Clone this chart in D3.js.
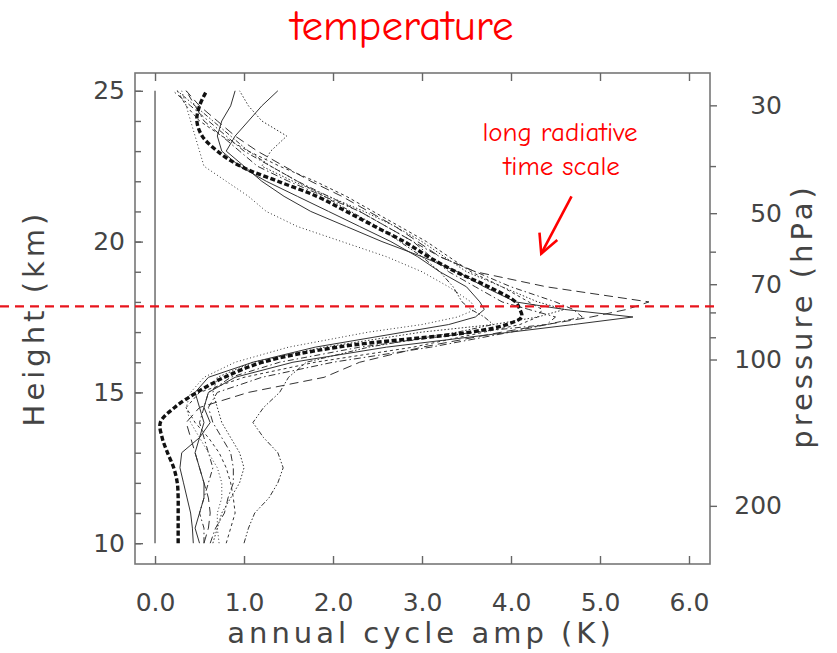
<!DOCTYPE html>
<html>
<head>
<meta charset="utf-8">
<script src="https://cdn.jsdelivr.net/npm/d3@7/dist/d3.min.js"></script>
<style>
  body { margin: 0; background: #fff; }
  svg text { font-family: "DejaVu Sans", sans-serif; }
</style>
</head>
<body>
<div id="chart"></div>
<script>
// heights (km) shared by every profile
var heights = [10, 10.5, 11, 11.5, 12, 12.5, 13, 13.5, 14, 14.5, 15, 15.5, 16, 16.5,
  17, 17.25, 17.5, 17.75, 18, 18.5, 19, 19.5, 20, 20.5, 21, 21.5, 22, 22.5, 23, 23.5, 24, 24.5, 25];

// annual cycle amplitude (K) of the single profiles
var ampSolidA = [0.43, 0.42, 0.40, 0.36, 0.32, 0.28, 0.30, 0.50, 0.62, 0.55, 0.60, 0.90, 1.55, 2.60,
  4.00, 4.70, 5.37, 4.60, 4.05, 3.70, 3.40, 3.00, 2.55, 2.15, 1.75, 1.45, 1.20, 1.00, 0.80, 0.90, 1.05, 1.20, 1.38];
var ampLongDash = [0.55, 0.60, 0.62, 0.60, 0.55, 0.50, 0.45, 0.40, 0.35, 0.50, 1.05, 1.90, 2.30, 3.00,
  3.90, 4.40, 4.90, 5.30, 5.55, 4.40, 3.60, 3.20, 2.95, 2.70, 2.40, 2.10, 1.75, 1.45, 1.15, 0.90, 0.70, 0.50, 0.35];
var ampDashDotA = [0.55, 0.55, 0.50, 0.55, 0.60, 0.65, 0.60, 0.55, 0.50, 0.55, 0.60, 0.85, 1.40, 2.30,
  3.60, 4.40, 4.80, 4.70, 4.50, 4.00, 3.60, 3.20, 2.90, 2.60, 2.30, 1.95, 1.60, 1.30, 1.00, 0.80, 0.60, 0.40, 0.20];
var ampDottedA = [0.65, 0.70, 0.75, 0.85, 0.95, 1.00, 0.95, 0.85, 0.75, 0.70, 0.65, 0.70, 1.10, 1.90,
  3.00, 3.80, 4.30, 4.60, 4.30, 3.90, 3.50, 3.25, 3.00, 2.70, 2.35, 1.95, 1.55, 1.20, 1.30, 1.48, 1.20, 1.05, 0.95];
var ampDashDotDot = [1.00, 1.05, 1.12, 1.28, 1.38, 1.44, 1.38, 1.22, 1.10, 1.22, 1.40, 1.50, 1.70, 2.40,
  3.40, 3.80, 3.70, 3.55, 3.45, 3.35, 3.20, 3.00, 2.75, 2.50, 2.20, 1.90, 1.60, 1.30, 1.05, 0.85, 0.65, 0.45, 0.25];
var ampShortDash = [0.80, 0.85, 0.90, 0.88, 0.85, 0.80, 0.72, 0.60, 0.45, 0.35, 0.50, 1.00, 1.80, 2.90,
  3.70, 4.10, 4.30, 4.35, 4.20, 3.90, 3.55, 3.30, 3.05, 2.75, 2.45, 2.15, 1.80, 1.40, 1.05, 0.75, 0.50, 0.35, 0.25];
var ampSolidB = [0.50, 0.45, 0.50, 0.55, 0.55, 0.50, 0.45, 0.50, 0.55, 0.50, 0.45, 0.60, 1.10, 1.80,
  2.80, 3.30, 3.60, 3.70, 3.65, 3.50, 3.20, 2.95, 2.65, 2.30, 1.95, 1.60, 1.25, 0.95, 0.75, 0.70, 0.75, 0.85, 0.90];
var ampDashDotB = [0.62, 0.68, 0.78, 0.82, 0.88, 0.88, 0.85, 0.75, 0.65, 0.60, 0.70, 1.20, 2.00, 3.10,
  4.00, 4.40, 4.50, 4.20, 3.90, 3.60, 3.30, 3.10, 2.90, 2.60, 2.30, 1.90, 1.50, 1.15, 0.95, 0.75, 0.55, 0.45, 0.35];
var ampDottedB = [0.72, 0.70, 0.70, 0.75, 0.75, 0.70, 0.60, 0.50, 0.40, 0.35, 0.40, 0.55, 0.90, 1.50,
  2.40, 3.00, 3.40, 3.60, 3.55, 3.30, 3.00, 2.60, 2.10, 1.60, 1.25, 1.05, 0.80, 0.55, 0.50, 0.45, 0.40, 0.35, 0.30];
// mean profile (thick dashed)
var ampMean = [0.26, 0.26, 0.26, 0.26, 0.25, 0.21, 0.14, 0.08, 0.06, 0.22, 0.47, 0.78, 1.21, 2.05,
  3.55, 3.95, 4.12, 4.10, 4.05, 3.75, 3.38, 3.07, 2.80, 2.47, 2.15, 1.82, 1.38, 0.96, 0.70, 0.53, 0.47, 0.50, 0.58];

var xTicks = [0, 1, 2, 3, 4, 5, 6];
var hMajor = [10, 15, 20, 25];
var hMinor = d3.range(10, 26, 1);
var pMajor = [30, 50, 70, 100, 200];
var pMinor = [40, 60, 80, 90];
var tropopause = 17.85;

var svgWidth = 837, svgHeight = 653;
var box = { left: 135, right: 710, top: 73, bottom: 564 };

var svg = d3.select("#chart").append("svg")
  .attr("width", svgWidth)
  .attr("height", svgHeight);

var x = d3.scaleLinear().domain([-0.225, 6.236]).range([box.left, box.right]);
var y = d3.scaleLinear().domain([9.31, 25.59]).range([box.bottom, box.top]);

// log-pressure height: 100 hPa at 16.09 km, scale height 7 km
function pAt(z) { return 100 * Math.exp(-(z - 16.09) / 7.0); }
var yP = d3.scaleLog().domain([pAt(y.domain()[0]), pAt(y.domain()[1])]).range([box.bottom, box.top]);

var series = [
  { amp: ampSolidA, dash: null },
  { amp: ampLongDash, dash: "9,5" },
  { amp: ampDashDotA, dash: "6,3,1.5,3" },
  { amp: ampDottedA, dash: "1.5,2" },
  { amp: ampDashDotDot, dash: "5,2,1.5,2,1.5,2" },
  { amp: ampShortDash, dash: "3,3" },
  { amp: ampSolidB, dash: null },
  { amp: ampDashDotB, dash: "7,3,1.5,3" },
  { amp: ampDottedB, dash: "1,2.5" }
];

var line = d3.line()
  .x(d => x(d[0]))
  .y(d => y(d[1]));

var plot = svg.append("g");

// zero line
plot.append("path")
  .attr("d", line([[0, 10], [0, 25]]))
  .attr("stroke", "#555")
  .attr("stroke-width", 1.3)
  .attr("fill", "none");

plot.selectAll(".prof")
  .data(series)
  .enter()
  .append("path")
  .attr("class", "prof")
  .attr("d", s => line(s.amp.map((a, i) => [a, heights[i]])))
  .attr("fill", "none")
  .attr("stroke", "#333")
  .attr("stroke-width", 1)
  .attr("stroke-dasharray", s => s.dash);

plot.append("path")
  .attr("d", line.curve(d3.curveCatmullRom)(ampMean.map((a, i) => [a, heights[i]])))
  .attr("fill", "none")
  .attr("stroke", "#111")
  .attr("stroke-width", 3.4)
  .attr("stroke-dasharray", "5,2.5");

// frame
svg.append("rect")
  .attr("x", box.left).attr("y", box.top)
  .attr("width", box.right - box.left).attr("height", box.bottom - box.top)
  .attr("fill", "none").attr("stroke", "#777").attr("stroke-width", 1.6);

function style(g) {
  g.select(".domain").remove();
  g.selectAll(".tick line").attr("stroke", "#666").attr("stroke-width", 1.4);
  g.selectAll(".tick text").attr("fill", "#444").style("font-size", "25px");
}

svg.append("g")
  .attr("transform", `translate(0,${box.bottom})`)
  .call(d3.axisBottom(x).tickValues(xTicks).tickSize(-8).tickPadding(29).tickFormat(d3.format(".1f")))
  .call(style);
svg.append("g")
  .attr("transform", `translate(0,${box.top})`)
  .call(d3.axisTop(x).tickValues(xTicks).tickSize(-8).tickFormat(""))
  .call(style);
svg.append("g")
  .attr("transform", `translate(${box.left},0)`)
  .call(d3.axisLeft(y).tickValues(hMinor).tickSize(-6).tickFormat(""))
  .call(style);
svg.append("g")
  .attr("transform", `translate(${box.left},0)`)
  .call(d3.axisLeft(y).tickValues(hMajor).tickSizeInner(-8).tickSizeOuter(0).tickPadding(10))
  .call(style);
svg.append("g")
  .attr("transform", `translate(${box.right},0)`)
  .call(d3.axisRight(yP).tickValues(pMinor).tickSize(6).tickFormat(""))
  .call(style);
svg.append("g")
  .attr("transform", `translate(${box.right},0)`)
  .call(d3.axisRight(yP).tickValues(pMajor).tickSize(7).tickFormat(d3.format("d")))
  .call(style)
  .selectAll(".tick text").attr("text-anchor", "end").attr("x", 72);

// axis titles
svg.append("text")
  .attr("x", 421).attr("y", 643)
  .attr("text-anchor", "middle")
  .attr("fill", "#444")
  .style("font-size", "29px").style("letter-spacing", "4px")
  .text("annual cycle amp (K)");
svg.append("text")
  .attr("transform", "translate(44,318) rotate(-90)")
  .attr("text-anchor", "middle")
  .attr("fill", "#444")
  .style("font-size", "29px").style("letter-spacing", "4px")
  .text("Height (km)");
svg.append("text")
  .attr("transform", "translate(812,316) rotate(-90)")
  .attr("text-anchor", "middle")
  .attr("fill", "#444")
  .style("font-size", "29px").style("letter-spacing", "4px")
  .text("pressure (hPa)");

// red annotations
svg.append("line")
  .attr("x1", 0).attr("x2", box.right + 5)
  .attr("y1", y(tropopause)).attr("y2", y(tropopause))
  .attr("stroke", "#e8141c").attr("stroke-width", 2.2)
  .attr("stroke-dasharray", "9,6");

svg.append("text")
  .attr("x", 402).attr("y", 40)
  .attr("text-anchor", "middle")
  .attr("fill", "#ff0000")
  .style("font-family", "'Comic Sans MS', 'Comic Neue', 'DejaVu Sans', sans-serif")
  .style("font-size", "43px")
  .text("temperature");

var note = svg.append("text")
  .attr("text-anchor", "middle")
  .attr("fill", "#ff0000")
  .style("font-family", "'Comic Sans MS', 'Comic Neue', 'DejaVu Sans', sans-serif")
  .style("font-size", "27px");
note.append("tspan").attr("x", x(4.55)).attr("y", 141).text("long radiative");
note.append("tspan").attr("x", x(4.57)).attr("y", 175).text("time scale");

var arrowFrom = [4.68, 21.5], arrowTo = [4.34, 19.6];
svg.append("path")
  .attr("d", line.curve(d3.curveLinear)([arrowFrom, arrowTo]))
  .attr("stroke", "#ff0000").attr("stroke-width", 2.6).attr("fill", "none");
svg.append("path")
  .attr("d", line([[4.32, 20.3], arrowTo, [4.52, 20.05]]))
  .attr("stroke", "#ff0000").attr("stroke-width", 2.6).attr("fill", "none")
  .attr("stroke-linejoin", "miter");
</script>
</body>
</html>
